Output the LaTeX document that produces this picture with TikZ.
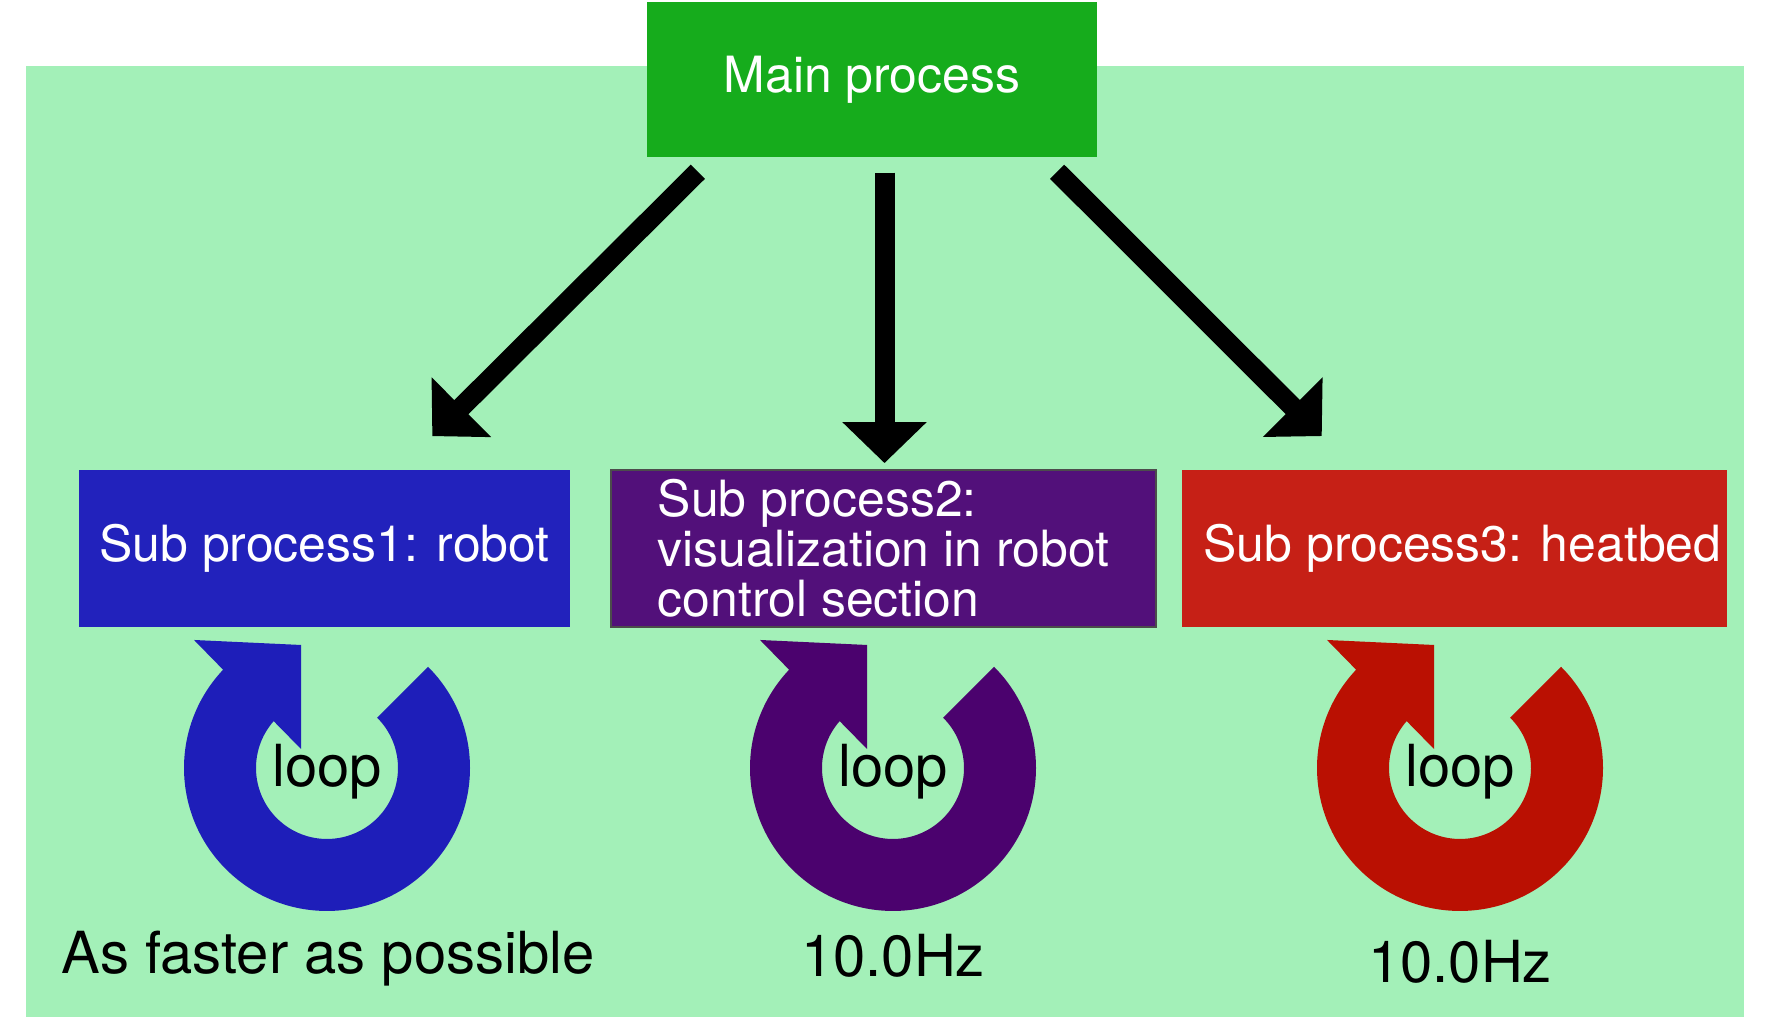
\documentclass[tikz,border=0pt]{standalone}
\usepackage{fontspec}
\setmainfont{TeX Gyre Heros}
\usepackage{tikz}
\usetikzlibrary{arrows.meta,calc}
\usepackage{xcolor}

\definecolor{bggreen}{RGB}{163,240,184}
\definecolor{maingreen}{RGB}{22,172,28}
\definecolor{subblue}{RGB}{34,34,188}
\definecolor{subpurple}{RGB}{82,16,122}
\definecolor{subred}{RGB}{198,32,22}
\definecolor{loopblue}{RGB}{30,30,185}
\definecolor{looppurple}{RGB}{75,2,110}
\definecolor{loopred}{RGB}{186,16,2}

\begin{document}
\begin{tikzpicture}[
    box/.style={rectangle, inner sep=0pt, minimum height=1.57cm, text=white,
        font=\fontsize{14.2}{14.2}\selectfont},
    looptext/.style={inner sep=0pt, font=\fontsize{16.5}{19.8}\selectfont},
    bigarrow/.style={line width=0.2cm, -{Triangle[width=0.82cm,length=0.41cm]}}
]
    \useasboundingbox (0,0) rectangle (17.72,10.29);
    \fill[bggreen] (0.26,0.12) rectangle (17.44,9.63);

    \node[box, fill=maingreen, minimum width=4.5cm, minimum height=1.55cm] (main) at (8.72,9.495) {Main process};

    \node[box, fill=subblue, minimum width=4.91cm] (sub1) at (3.245,4.805) {Sub process1: robot};
    \node[box, fill=subpurple, draw=black!70, line width=0.5pt, minimum width=5.45cm, align=left] (sub2) at (8.835,4.805) {Sub process2:\\visualization in robot\\control section};
    \node[box, fill=subred, minimum width=5.45cm] (sub3) at (14.545,4.805) {\hspace*{0.16cm}Sub process3: heatbed};

    \draw[bigarrow, shorten <=0.2cm, shorten >=0.47cm] ($(main.south)+(-1.6,0)$) -- ($(sub1.north)+(0.745,0)$);
    \draw[bigarrow, shorten <=0.15cm, shorten >=0.06cm] ($(main.south)+(0.125,0)$) -- ($(sub2.north)+(0.01,0)$);
    \draw[bigarrow, shorten <=0.2cm, shorten >=0.47cm] ($(main.south)+(1.71,0)$) -- ($(sub3.north)+(-0.995,0)$);

    % loop rings under each sub process
    \foreach \i/\cx/\col in {1/3.27/loopblue, 2/8.93/looppurple, 3/14.60/loopred} {
        \fill[\col, shift={(\cx,2.61)}] (45:1.43) arc[start angle=45, end angle=-223.4, radius=1.43]
            -- (-1.33,1.28) -- (-0.26,1.23) -- (-0.26,0.19) -- (138.7:0.71)
            arc[start angle=138.7, end angle=405, radius=0.71] -- cycle;
        \node[looptext, anchor=base] (loop\i) at (\cx,2.42) {loop};
    }

    \node[looptext, anchor=base] (rate1) at (3.28,0.55) {As faster as possible};
    \node[looptext, anchor=base] (rate2) at (8.93,0.52) {10.0Hz};
    \node[looptext, anchor=base] (rate3) at (14.60,0.46) {10.0Hz};
\end{tikzpicture}
\end{document}
